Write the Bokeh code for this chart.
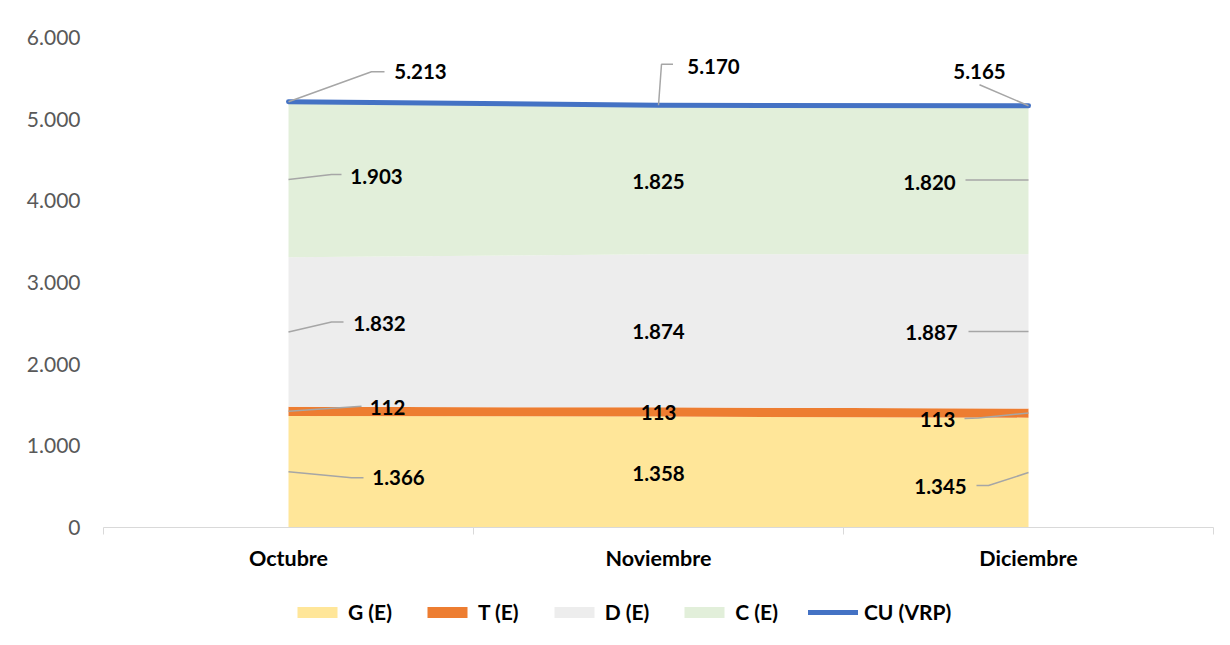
from bokeh.plotting import figure
from bokeh.layouts import column
from bokeh.models import ColumnDataSource, FixedTicker, Legend, LegendItem, Range1d
from bokeh.core.properties import value
from bokeh.embed import file_html
from bokeh.resources import INLINE

# ---------------- data ----------------
categories = ["Octubre", "Noviembre", "Diciembre"]
g_e = [1366, 1358, 1345]
t_e = [112, 113, 113]
d_e = [1832, 1874, 1887]
c_e = [1903, 1825, 1820]
cu_vrp = [5213, 5170, 5165]
y_tick_values = [0, 1000, 2000, 3000, 4000, 5000, 6000]
series_names = ["G (E)", "T (E)", "D (E)", "C (E)"]
cu_name = "CU (VRP)"

# ---------------- styles / layout ----------------
colors = ["#FFE699", "#ED7D31", "#EDEDED", "#E2EFDA"]
cu_color = "#4472C4"
leader_color = "#A6A6A6"
FONT = "Lato"

W = 1230
H1, H2 = 580, 65          # chart, legend strip
BL, BR, BT, BB = 103, 17, 37, 53
FW, FH = W - BL - BR, H1 - BT - BB
X0, X1 = 0, len(categories)
Y0, Y1 = 0, 6000
ux = (X1 - X0) / FW   # data units per px
uy = (Y1 - Y0) / FH

# label offsets in px (right, down) from each anchor, per category
label_off = {
    "G": [(110, 6), (0, 1.5), (-88, 14)],
    "T": [(99, -4), (0, 0.5), (-91, 6.5)],
    "D": [(91, -8.5), (0, 0.5), (-97, 1)],
    "C": [(88, -3), (0, 1.5), (-99, 2)],
    "CU": [(132, -30), (55, -39), (-49, -34)],
}
# leader paths in px (right, down) from each anchor
leaders = {
    "G": [[(0, 0), (63, 6), (75, 6)], None, [(0, 0), (-40, 13), (-52, 13)]],
    "T": [[(0, 0), (73, -5)], None, [(0, 0), (-50, 5), (-64, 5.5)]],
    "D": [[(0, 0), (43, -10), (55, -10)], None, [(0, 0), (-60, 0)]],
    "C": [[(0, 0), (43, -5), (53, -5)], None, [(0, 0), (-63, 0)]],
    "CU": [[(0, 0), (83, -30), (96, -30)], [(0, 0), (3, -41), (14.5, -41)], [(0, 0), (-49, -21)]],
}


def fmt(v):
    return f"{v:,}".replace(",", ".")


xs = [i + 0.5 for i in range(len(categories))]

p = figure(width=W, height=H1, x_range=Range1d(X0, X1), y_range=Range1d(Y0, Y1),
           output_backend="svg", toolbar_location=None,
           min_border_left=BL, min_border_right=BR, min_border_top=BT, min_border_bottom=BB)
p.outline_line_color = None
p.grid.visible = False
p.background_fill_color = "white"
p.border_fill_color = "white"

src = ColumnDataSource(dict(x=xs, g=g_e, t=t_e, d=d_e, c=c_e))
areas = p.varea_stack(["g", "t", "d", "c"], x="x", source=src, color=colors)
cu_r = p.line(xs, cu_vrp, line_color=cu_color, line_width=5,
              line_cap="round", line_join="round")

# anchors: band centers
stacks = [g_e, t_e, d_e, c_e]
keys = ["G", "T", "D", "C"]
anchors = {}
base = [0, 0, 0]
for k, s in zip(keys, stacks):
    anchors[k] = [(xs[i], base[i] + s[i] / 2) for i in range(3)]
    base = [base[i] + s[i] for i in range(3)]
anchors["CU"] = [(xs[i], cu_vrp[i]) for i in range(3)]
vals = dict(G=g_e, T=t_e, D=d_e, C=c_e, CU=cu_vrp)

lx, ly, lt = [], [], []
mx, my = [], []
for k in ["G", "T", "D", "C", "CU"]:
    for i in range(3):
        ax, ay = anchors[k][i]
        ox, oy = label_off[k][i]
        lx.append(ax + ox * ux)
        ly.append(ay - oy * uy)
        lt.append(fmt(vals[k][i]))
        path = leaders[k][i]
        if path:
            mx.append([ax + px * ux for px, py in path])
            my.append([ay - py * uy for px, py in path])

p.multi_line(mx, my, line_color=leader_color, line_width=1.5)
p.text(lx, ly, text=lt, text_align="center", text_baseline="middle",
       text_font=value(FONT), text_font_style="bold", text_font_size="20.5px",
       text_color="black")

# ---------------- axes ----------------
p.yaxis.ticker = FixedTicker(ticks=y_tick_values)
p.yaxis.major_label_overrides = {v: fmt(v) for v in y_tick_values}
p.yaxis.axis_line_color = None
p.yaxis.major_tick_line_color = None
p.yaxis.minor_tick_line_color = None
p.yaxis.major_tick_out = 0
p.yaxis.minor_tick_out = 0
p.yaxis.major_label_standoff = 23
p.yaxis.major_label_text_font = FONT
p.yaxis.major_label_text_font_size = "21px"
p.yaxis.major_label_text_color = "#595959"

p.xaxis.ticker = FixedTicker(ticks=xs, minor_ticks=list(range(X0, X1 + 1)))
p.xaxis.major_label_overrides = {x: c for x, c in zip(xs, categories)}
p.xaxis.axis_line_color = "#D9D9D9"
p.xaxis.axis_line_width = 1
p.xaxis.major_tick_line_color = None
p.xaxis.major_tick_out = 0
p.xaxis.major_tick_in = 0
p.xaxis.minor_tick_line_color = "#D9D9D9"
p.xaxis.minor_tick_out = 7
p.xaxis.minor_tick_in = 0
p.xaxis.major_label_standoff = 10
p.xaxis.major_label_text_font = FONT
p.xaxis.major_label_text_font_size = "21.5px"
p.xaxis.major_label_text_font_style = "bold"
p.xaxis.major_label_text_color = "black"

# ---------------- legend strip ----------------
p2 = figure(width=W, height=H2, x_range=Range1d(0, 1), y_range=Range1d(0, 1),
            x_axis_type=None, y_axis_type=None, output_backend="svg",
            toolbar_location=None, min_border=0, min_border_left=0,
            min_border_right=0, min_border_top=0, min_border_bottom=0)
p2.outline_line_color = None
p2.grid.visible = False
p2.border_fill_color = "white"
# legend-only renderers, placed outside the strip's visible range
leg_r = [p2.varea(x=[5, 6], y1=[5, 5], y2=[6, 6], color=c) for c in colors]
leg_cu = p2.line(x=[5, 6], y=[5, 5], line_color=cu_color, line_width=5, line_cap="round")

items = [LegendItem(label=n, renderers=[r]) for n, r in zip(series_names, leg_r)]
items.append(LegendItem(label=cu_name, renderers=[leg_cu]))
legend = Legend(items=items, orientation="horizontal", location=(189, 21),
                glyph_width=50, glyph_height=14, label_standoff=6, spacing=30,
                padding=0, margin=0, border_line_color=None, background_fill_alpha=0,
                label_text_font=FONT, label_text_font_size="21px",
                label_text_font_style="bold", label_text_color="black")
p2.add_layout(legend)

page = column(p, p2, spacing=0)
open("out.html", "w").write(file_html(page, INLINE))
